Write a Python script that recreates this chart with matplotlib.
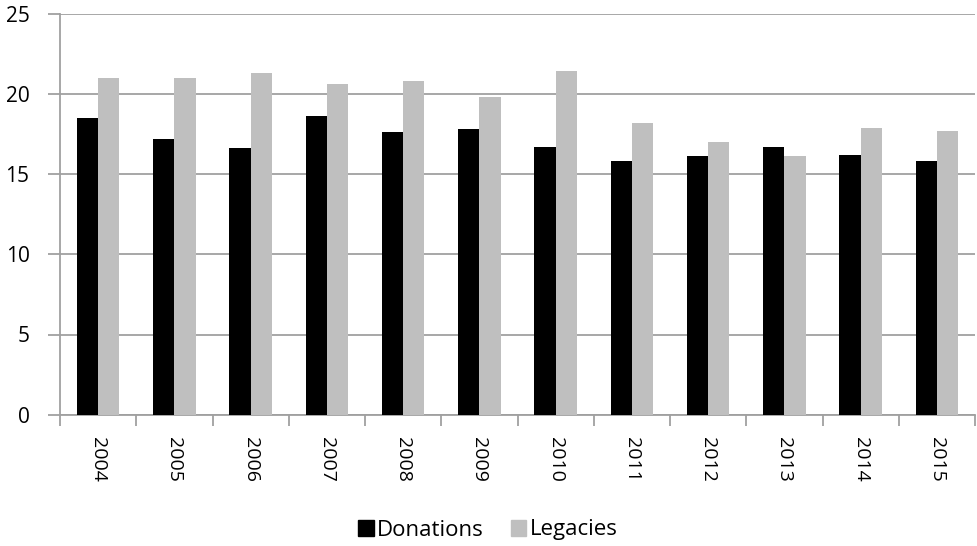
import numpy as np
import matplotlib.pyplot as plt
from matplotlib.patches import Patch

years = ['2004', '2005', '2006', '2007', '2008', '2009',
         '2010', '2011', '2012', '2013', '2014', '2015']
donations = [18.5, 17.2, 16.6, 18.6, 17.6, 17.8, 16.7, 15.8, 16.1, 16.7, 16.2, 15.8]
legacies = [21.0, 21.0, 21.3, 20.6, 20.8, 19.8, 21.4, 18.2, 17.0, 16.1, 17.9, 17.7]

plt.rcParams['font.family'] = ['Open Sans', 'DejaVu Sans']

fig = plt.figure(figsize=(9.77, 5.46), dpi=100)
ax = fig.add_axes([60/977, 1 - 414.7/546, 915/977, (414.7 - 13.7)/546])

x = np.arange(len(years))
w = 0.28
ax.bar(x - w/2, donations, w, color='black', zorder=3)
ax.bar(x + w/2, legacies, w, color='#bfbfbf', zorder=3)

ax.set_xlim(-0.5, len(years) - 0.5)
ax.set_ylim(0, 25)
ax.set_yticks([0, 5, 10, 15, 20, 25])
ax.yaxis.grid(True, color='#a0a0a0', linewidth=1.3, zorder=0)
ax.set_axisbelow(True)

# ticks at category boundaries, labels centred on categories
ax.set_xticks(np.arange(-0.5, len(years)), minor=False)
ax.set_xticklabels([])
ax.set_xticks(x, minor=True)
ax.set_xticklabels(years, minor=True, rotation=-90, fontsize=14)
ax.tick_params(axis='x', which='minor', length=0, pad=16)
ax.tick_params(axis='x', which='major', length=8, width=1.3, color='#a0a0a0')
ax.tick_params(axis='y', length=9, width=1.3, color='#a0a0a0', labelsize=15, pad=13)

for s in ['top', 'right']:
    ax.spines[s].set_visible(False)
for s in ['left', 'bottom']:
    ax.spines[s].set_color('#a0a0a0')
    ax.spines[s].set_linewidth(1.3)

handles = [Patch(color='black', label='Donations'),
           Patch(color='#bfbfbf', label='Legacies')]
fig.legend(handles=handles, loc='center', bbox_to_anchor=(488/977, 1 - 530/546),
           ncol=2, frameon=False, fontsize=16, handlelength=0.7, handleheight=0.7,
           handletextpad=0.15, columnspacing=1.2)

fig.savefig('out.png', dpi=100)
